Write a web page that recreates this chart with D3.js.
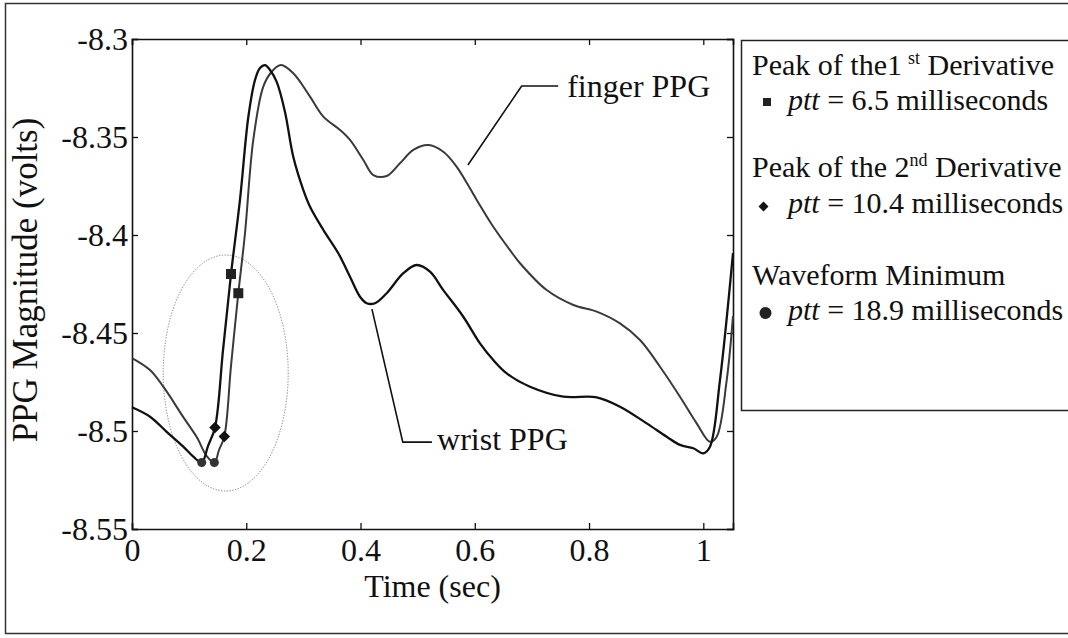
<!DOCTYPE html>
<html lang="en">
<head>
<meta charset="UTF-8">
<title>PPG pulse transit time</title>
<script src="https://d3js.org/d3.v7.min.js"></script>
<style>
  body { margin: 0; background: #fff; }
  svg text { font-family: "Liberation Serif", "Times New Roman", serif; fill: #111; }
</style>
</head>
<body>
<div id="chart"></div>
<script>
// wrist PPG
const wristTime = [0, 0.0315, 0.0607, 0.0898, 0.1073, 0.1220, 0.1330, 0.1453, 0.1593, 0.1733,
  0.1890, 0.2036, 0.2153, 0.2240, 0.2328, 0.2416, 0.2533, 0.2678, 0.2823, 0.2998,
  0.3116, 0.3349, 0.3611, 0.3816, 0.3991, 0.4108, 0.4253, 0.4458, 0.4749, 0.4983,
  0.5216, 0.5449, 0.5799, 0.6091, 0.6324, 0.6559, 0.6967, 0.7549, 0.8134, 0.8542,
  0.9009, 0.9359, 0.9592, 0.9825, 1.0000, 1.0117, 1.0292, 1.0520];
const wristVolts = [-8.4879, -8.4927, -8.5004, -8.5080, -8.5131, -8.5161, -8.5077, -8.4982, -8.4587, -8.4199,
  -8.3821, -8.3398, -8.3209, -8.3148, -8.3133, -8.3158, -8.3219, -8.3372, -8.3601, -8.3770,
  -8.3856, -8.3974, -8.4093, -8.4213, -8.4315, -8.4348, -8.4348, -8.4297, -8.4195, -8.4153,
  -8.4187, -8.4281, -8.4417, -8.4553, -8.4638, -8.4706, -8.4774, -8.4825, -8.4828, -8.4876,
  -8.4961, -8.5029, -8.5071, -8.5088, -8.5114, -8.5080, -8.4740, -8.4092];

// finger PPG
const fingerTime = [0, 0.0315, 0.0548, 0.0898, 0.1133, 0.1308, 0.1441, 0.1523, 0.1616, 0.1733,
  0.1861, 0.1978, 0.2123, 0.2298, 0.2445, 0.2608, 0.2823, 0.3116, 0.3349, 0.3641,
  0.3816, 0.4049, 0.4224, 0.4458, 0.4691, 0.4924, 0.5186, 0.5449, 0.5684, 0.6034,
  0.6324, 0.6616, 0.6792, 0.7259, 0.7725, 0.8134, 0.8542, 0.8892, 0.9242, 0.9592,
  0.9884, 1.0117, 1.0235, 1.0410, 1.0520];
const fingerVolts = [-8.4628, -8.4689, -8.4774, -8.4929, -8.5031, -8.5128, -8.5161, -8.5097, -8.5028, -8.4668,
  -8.4297, -8.3991, -8.3515, -8.3243, -8.3167, -8.3133, -8.3175, -8.3294, -8.3396, -8.3464,
  -8.3515, -8.3617, -8.3694, -8.3699, -8.3634, -8.3566, -8.3541, -8.3575, -8.3652, -8.3821,
  -8.3958, -8.4077, -8.4144, -8.4281, -8.4357, -8.4391, -8.4451, -8.4536, -8.4672, -8.4825,
  -8.4961, -8.5055, -8.5029, -8.4740, -8.4413];

// marker points: [wrist, finger]
const firstDerivTime = [0.1733, 0.1861];
const firstDerivVolts = [-8.4199, -8.4297];
const secondDerivTime = [0.1453, 0.1616];
const secondDerivVolts = [-8.4982, -8.5028];
const minimumTime = [0.1220, 0.1441];
const minimumVolts = [-8.5161, -8.5161];

const xTicks = [0, 0.2, 0.4, 0.6, 0.8, 1];
const xTickLabels = ["0", "0.2", "0.4", "0.6", "0.8", "1"];
const yTicks = [-8.3, -8.35, -8.4, -8.45, -8.5, -8.55];
const yTickLabels = ["-8.3", "-8.35", "-8.4", "-8.45", "-8.5", "-8.55"];

const legendHeads = ["Peak of the1", "Peak of the 2", "Waveform Minimum"];
const legendSups = ["st", "nd", ""];
const legendTails = [" Derivative", " Derivative", ""];
const legendPtt = [" = 6.5 milliseconds", " = 10.4 milliseconds", " = 18.9 milliseconds"];

const SERIF = "Liberation Serif";
const W = 1068, H = 638;
const margin = { top: 39, left: 132 };
const width = 601, height = 490;

const svg = d3.select("#chart").append("svg")
  .attr("width", W).attr("height", H);

// outer frame of the figure
svg.append("rect")
  .attr("x", 5.5).attr("y", 3.5).attr("width", 1080).attr("height", 630)
  .attr("fill", "none").attr("stroke", "#333").attr("stroke-width", 1.5);

const g = svg.append("g")
  .attr("transform", "translate(" + margin.left + "," + margin.top + ")");

const x = d3.scaleLinear().domain([0, 1.052]).range([0, width]);
const y = d3.scaleLinear().domain([-8.55, -8.3]).range([height, 0]);

// axes, ticks pointing inward on all four sides
const xAxis = g.append("g")
  .attr("transform", "translate(0," + height + ")")
  .call(d3.axisBottom(x).tickValues(xTicks).tickSize(-6).tickPadding(9)
    .tickFormat((d, i) => xTickLabels[i]));
const yAxis = g.append("g")
  .call(d3.axisLeft(y).tickValues(yTicks).tickSize(-6).tickPadding(4)
    .tickFormat((d, i) => yTickLabels[i]));
g.append("g")
  .call(d3.axisTop(x).tickValues(xTicks).tickSize(-6).tickFormat(""));
g.append("g")
  .attr("transform", "translate(" + width + ",0)")
  .call(d3.axisRight(y).tickValues(yTicks).tickSize(-6).tickFormat(""));

g.selectAll("g").attr("font-family", SERIF).attr("font-size", 32);
g.selectAll(".domain").attr("stroke", "#111").attr("stroke-width", 1.6);
g.selectAll(".tick line").attr("stroke", "#111").attr("stroke-width", 1.3);
g.selectAll(".tick text").attr("fill", "#111");
yAxis.selectAll(".tick text").attr("dy", "0.34em");

// axis titles
svg.append("text")
  .attr("x", margin.left + width / 2).attr("y", 597)
  .attr("text-anchor", "middle")
  .attr("font-family", SERIF).attr("font-size", 32)
  .text("Time (sec)");
svg.append("text")
  .attr("transform", "translate(37," + (margin.top + 241) + ") rotate(-90)")
  .attr("text-anchor", "middle")
  .attr("font-family", SERIF).attr("font-size", 35)
  .text("PPG Magnitude (volts)");

// dotted ellipse round the onset region
const ellCx = 0.164, ellCy = -8.4704, ellRx = 0.1094, ellRy = 0.0602;
g.append("ellipse")
  .attr("cx", x(ellCx)).attr("cy", y(ellCy))
  .attr("rx", x(ellRx) - x(0)).attr("ry", y(-8.55) - y(-8.55 + ellRy))
  .attr("fill", "none").attr("stroke", "#777").attr("stroke-width", 1)
  .attr("stroke-dasharray", "1.2,1.6");

const line = d3.line().x(d => x(d[0])).y(d => y(d[1])).curve(d3.curveCatmullRom);

const finger = d3.zip(fingerTime, fingerVolts);
const wrist = d3.zip(wristTime, wristVolts);

g.append("path").datum(finger)
  .attr("d", line).attr("fill", "none")
  .attr("stroke", "#3a3a3a").attr("stroke-width", 2);
g.append("path").datum(wrist)
  .attr("d", line).attr("fill", "none")
  .attr("stroke", "#111").attr("stroke-width", 2.3);

// markers
g.selectAll(".sq").data(d3.zip(firstDerivTime, firstDerivVolts)).join("rect")
  .attr("x", d => x(d[0]) - 5).attr("y", d => y(d[1]) - 5)
  .attr("width", 10).attr("height", 10).attr("fill", "#222");
g.selectAll(".dm").data(d3.zip(secondDerivTime, secondDerivVolts)).join("path")
  .attr("d", d3.symbol(d3.symbolSquare, 66))
  .attr("transform", d => "translate(" + x(d[0]) + "," + y(d[1]) + ") rotate(45)")
  .attr("fill", "#111");
g.selectAll(".ci").data(d3.zip(minimumTime, minimumVolts)).join("circle")
  .attr("cx", d => x(d[0])).attr("cy", d => y(d[1])).attr("r", 4.5)
  .attr("fill", "#333");

// curve labels with leader lines
const leader = d3.line().x(d => x(d[0])).y(d => y(d[1]));
g.append("path")
  .datum([[0.588, -8.3643], [0.682, -8.3240], [0.746, -8.3240]])
  .attr("d", leader).attr("fill", "none").attr("stroke", "#111").attr("stroke-width", 1.6);
g.append("text")
  .attr("x", x(0.7617)).attr("y", y(-8.3296))
  .attr("font-family", SERIF).attr("font-size", 32)
  .text("finger PPG");
g.append("path")
  .datum([[0.420, -8.4378], [0.474, -8.5057], [0.525, -8.5057]])
  .attr("d", leader).attr("fill", "none").attr("stroke", "#111").attr("stroke-width", 1.6);
g.append("text")
  .attr("x", x(0.534)).attr("y", y(-8.5097))
  .attr("font-family", SERIF).attr("font-size", 32)
  .text("wrist PPG");

// legend box
const lg = svg.append("g").attr("font-family", SERIF).attr("font-size", 30);
lg.append("rect")
  .attr("x", 741.5).attr("y", 40.5).attr("width", 340).attr("height", 370)
  .attr("fill", "none").attr("stroke", "#222").attr("stroke-width", 1.5);

const headY = [75, 177, 285];
const pttY = [110, 213, 320];
legendHeads.forEach((h, i) => {
  const t = lg.append("text").attr("x", 752).attr("y", headY[i])
    .attr("font-family", SERIF).attr("font-size", 30);
  t.append("tspan").text(h);
  if (legendSups[i]) {
    t.append("tspan").attr("dx", i === 0 ? 6 : 0).attr("dy", -11)
      .attr("font-size", 18).text(legendSups[i]);
    t.append("tspan").attr("dy", 11).text(legendTails[i]);
  }
  const p = lg.append("text").attr("x", 788).attr("y", pttY[i])
    .attr("font-family", SERIF).attr("font-size", 30);
  p.append("tspan").attr("font-style", "italic").text("ptt");
  p.append("tspan").text(legendPtt[i]);
});
lg.append("rect").attr("x", 763).attr("y", 98).attr("width", 8).attr("height", 8).attr("fill", "#222");
lg.append("path").attr("d", d3.symbol(d3.symbolSquare, 50))
  .attr("transform", "translate(763.5,206.5) rotate(45)").attr("fill", "#111");
lg.append("circle").attr("cx", 765.5).attr("cy", 313).attr("r", 6).attr("fill", "#222");
</script>
</body>
</html>
